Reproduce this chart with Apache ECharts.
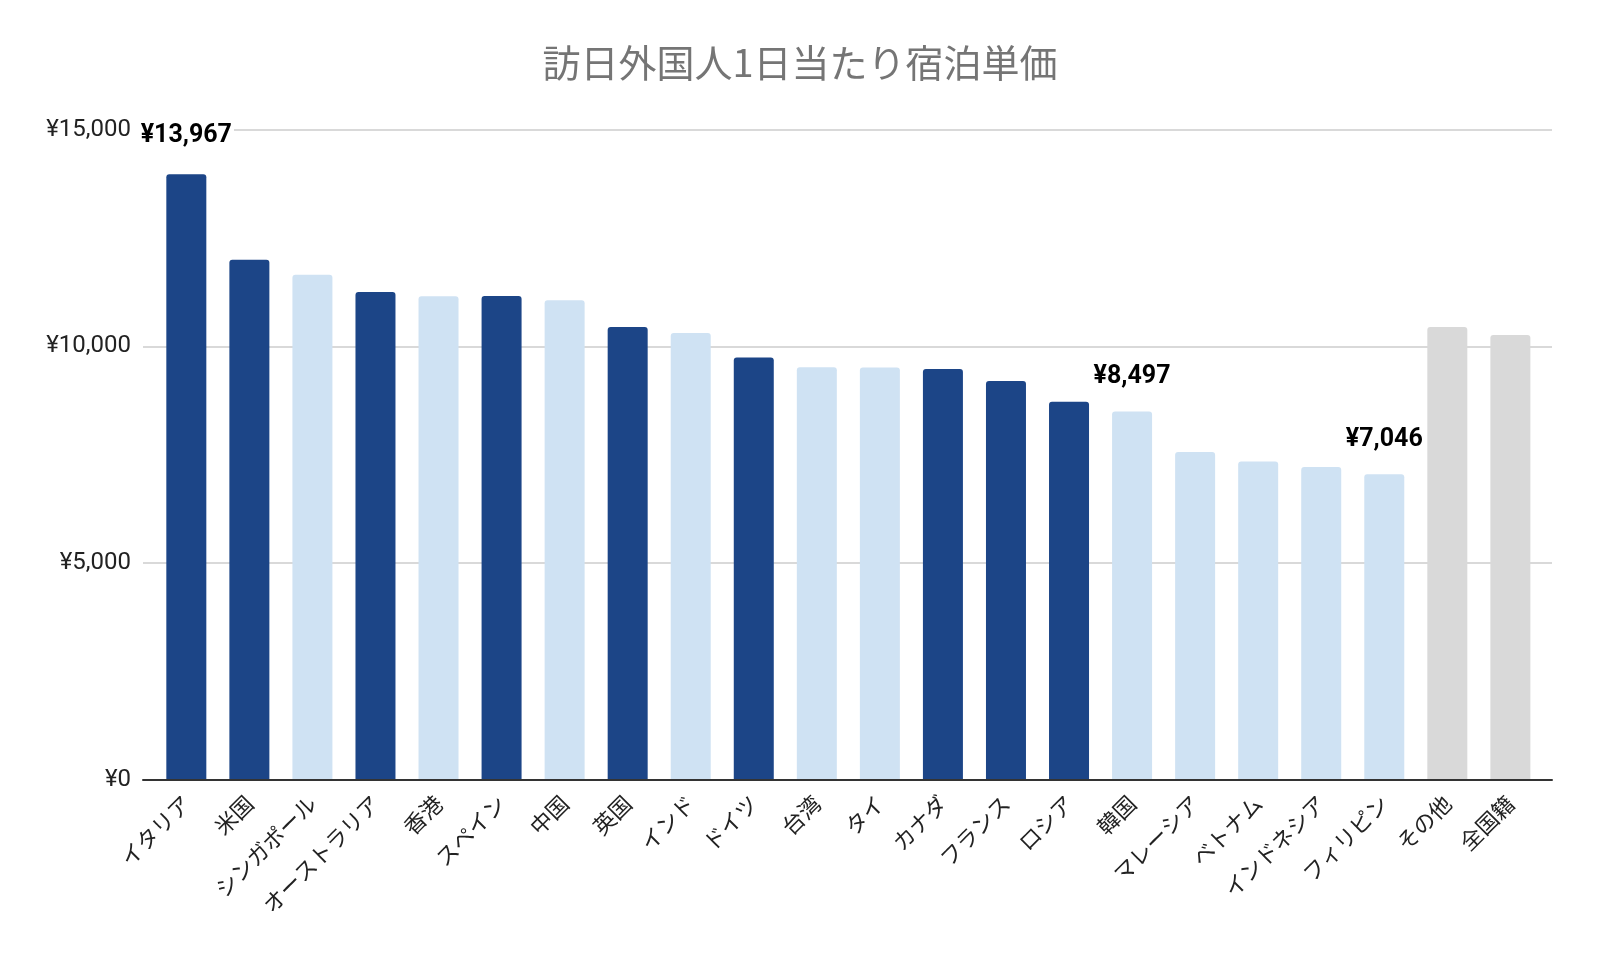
<!DOCTYPE html>
<html>
<head>
<meta charset="utf-8">
<script src="https://cdn.jsdelivr.net/npm/echarts@6/dist/echarts.min.js"></script>
<style>
html,body{margin:0;padding:0;background:#fff;}
#chart{width:1600px;height:961px;}
</style>
</head>
<body>
<div id="chart"></div>
<script>
const titleText = '訪日外国人1日当たり宿泊単価';
const categories = ['イタリア','米国','シンガポール','オーストラリア','香港','スペイン','中国','英国','インド','ドイツ','台湾','タイ','カナダ','フランス','ロシア','韓国','マレーシア','ベトナム','インドネシア','フィリピン','その他','全国籍'];
const values = [13967,11998,11650,11250,11155,11160,11060,10445,10306,9740,9516,9512,9477,9201,8717,8497,7560,7340,7215,7046,10445,10260];
const groups = ['west','west','asia','west','asia','west','asia','west','asia','west','asia','asia','west','west','west','asia','asia','asia','asia','asia','other','other'];
const labeledCategories = ['イタリア','韓国','フィリピン'];
const yTicks = [0,5000,10000,15000];

const groupColors = {west:'#1c4587', asia:'#cfe2f3', other:'#d9d9d9'};
const yen = v => '¥' + v.toLocaleString('en-US');
const maxValue = Math.max(...values);

const seriesData = values.map((v,i) => {
  const item = {value: v, itemStyle: {color: groupColors[groups[i]]}};
  if (labeledCategories.includes(categories[i])) {
    item.label = {show: true, distance: v === maxValue ? 26 : 22};
  }
  return item;
});

const chart = echarts.init(document.getElementById('chart'), null, {renderer:'canvas'});
const gridTop = 129.6, gridBottom = 961 - 779.6;
chart.setOption({
  animation: false,
  backgroundColor: '#fff',
  title: {
    text: titleText,
    left: 'center',
    top: 37,
    textStyle: {fontFamily: '"Noto Sans CJK JP", Roboto, sans-serif', fontSize: 38, fontWeight: 'normal', color: '#757575', lineHeight: 42}
  },
  grid: [
    {left: 143, right: 48, top: gridTop, bottom: gridBottom},
    {left: 154.8, right: 58.1, top: gridTop, bottom: gridBottom}
  ],
  xAxis: [
    {type: 'category', gridIndex: 0, data: categories, z: 5,
     axisLine: {show: true, lineStyle: {color: '#333', width: 2}},
     axisTick: {show: false}, axisLabel: {show: false}, splitLine: {show: false}},
    {type: 'category', gridIndex: 1, data: categories,
     axisLine: {show: false}, axisTick: {show: false},
     axisLabel: {show: true, interval: 0, rotate: 45, margin: 20,
       fontFamily: '"Noto Sans CJK JP", sans-serif', fontSize: 22, color: '#222'}}
  ],
  yAxis: [
    {type: 'value', gridIndex: 0, min: yTicks[0], max: yTicks[yTicks.length-1], interval: 5000,
     axisLine: {show: false}, axisTick: {show: false},
     axisLabel: {formatter: v => yen(v), fontFamily: 'Roboto, sans-serif', fontSize: 24, color: '#222', margin: 12},
     splitLine: {show: true, lineStyle: {color: '#cccccc', width: 1.5}}},
    {type: 'value', gridIndex: 1, min: yTicks[0], max: yTicks[yTicks.length-1], interval: 5000, show: false,
     splitLine: {show: false}}
  ],
  series: [{
    type: 'bar',
    xAxisIndex: 1, yAxisIndex: 1,
    data: seriesData,
    barWidth: 40,
    itemStyle: {borderRadius: [3,3,0,0]},
    label: {
      show: false, position: 'top', distance: 22,
      formatter: p => yen(p.value),
      fontFamily: 'Roboto, sans-serif', fontWeight: 'bold', fontSize: 25, color: '#000',
      backgroundColor: '#fff', padding: [0,2]
    }
  }]
});
</script>
</body>
</html>
